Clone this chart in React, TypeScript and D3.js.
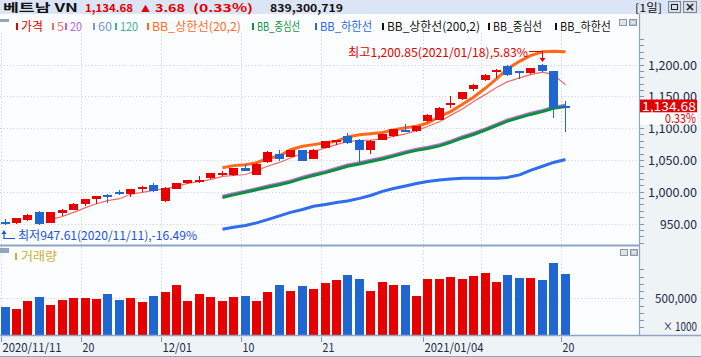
import React from "react";
import * as d3 from "d3";

const dates = [
  "2020/11/11","2020/11/12","2020/11/13","2020/11/16","2020/11/17","2020/11/18","2020/11/19","2020/11/20",
  "2020/11/23","2020/11/24","2020/11/25","2020/11/26","2020/11/27","2020/11/30","2020/12/01","2020/12/02",
  "2020/12/03","2020/12/04","2020/12/07","2020/12/08","2020/12/09","2020/12/10","2020/12/11","2020/12/14",
  "2020/12/15","2020/12/16","2020/12/17","2020/12/18","2020/12/21","2020/12/22","2020/12/23","2020/12/24",
  "2020/12/25","2020/12/28","2020/12/29","2020/12/30","2020/12/31","2021/01/04","2021/01/05","2021/01/06",
  "2021/01/07","2021/01/08","2021/01/11","2021/01/12","2021/01/13","2021/01/14","2021/01/15","2021/01/18",
  "2021/01/19","2021/01/20"
];
const opens = [953,950.5,956,968,951.5,966,972,981,988,994.5,999.5,996,1003.5,1010,985,1005,1013,1016,1021,1029,
  1025.5,1038,1027,1046,1060,1055,1065,1052,1068.5,1079.5,1087,1082,1066,1082,1087,1097,1095,1110.5,1113.5,1137,
  1145,1162,1175,1189,1197,1189,1186,1198.5,1189,1135.5];
const highs = [957,959,965,970,968,972.5,981.5,988.5,994,997,1002,1004,1009,1013,1007,1014,1018.5,1024,1029.5,1032,
  1037,1043,1045,1063.5,1066,1066,1066,1067,1080,1082,1092.5,1083,1081,1091,1098.5,1107,1104,1121.5,1132.5,1151,
  1156.5,1170,1185,1193,1199,1190,1195,1200.85,1190,1142];
const lows = [947.61,949.5,954.5,948,950.5,962,971,977,981,983,994.5,991,1000,1000,984.5,1004,1012,1014,1020,1025,
  1025,1032,1026,1045.5,1049,1054,1048,1051,1068,1074,1075.5,1045.5,1059.5,1081,1086,1094,1094,1110,1113,1131,
  1144,1158,1174,1178,1182,1177.5,1185,1188,1115.5,1094.5];
const closes = [952,958,964,949,967.5,972,981,988,992.5,994,999,1003.5,1008,1000.5,1006.5,1013,1018,1019,1029,1030,
  1036.5,1033,1044,1063,1052,1065,1049,1066,1079,1081.5,1076,1065,1080.5,1090,1098,1096,1103,1120,1131,1140,
  1156,1167,1184,1192,1184,1186,1194,1189,1131,1134.68];
const volumes = [381000,349000,460000,516000,404000,474000,502000,502000,488000,558000,474000,502000,446000,530000,
  586000,683000,460000,558000,516000,460000,516000,530000,460000,586000,683000,600000,669000,628000,711000,753000,
  822000,767000,600000,725000,683000,683000,530000,767000,767000,795000,767000,809000,851000,725000,822000,781000,
  781000,753000,990000,839300];

// 5-day moving average, from index 4
const ma5Start = 4;
const ma5 = [956,961,967.5,975,981,986,989,996,999,1002,1005,1008,1013,1016,1019,1024,1025.5,1027,1033,1040,1046,
  1053,1060,1063,1069,1074,1079,1080.5,1081,1083,1087,1091,1096,1102.5,1110,1120,1130,1142,1153,1164,1173,1179,
  1184,1188,1184,1168];
// Bollinger (20,2), from index 19
const bbStart = 19;
const bbUpper = [1037.6,1041,1042.5,1045.5,1052,1056.5,1066,1071.5,1074,1077,1079.5,1086,1089.5,1091,1093,1097,
  1100.5,1103,1108,1118,1126,1137.5,1148.5,1163,1177.5,1193,1205,1214,1220,1221,1220];
const bbMiddle = [991,995,999,1003,1007,1011,1015,1021,1025.5,1030,1035,1040,1043.5,1047.5,1051.5,1056,1061,1065,
  1068,1072,1077.5,1084.5,1090,1097,1104,1111,1116.5,1121.5,1126,1131,1134];
const bbLower = [941,944,947,951,956,962,967.5,972,977,980,983,985.5,989.5,994,1000.5,1005,1009,1013,1016,1018.5,
  1020,1021,1021,1021,1021,1022.5,1026.5,1033.5,1040,1046,1050.5];

const priceTicks = [950, 1000, 1050, 1100, 1150, 1200];
const volumeTicks = [500000];
const xTickIdx = [0, 7, 14, 21, 28, 37, 49];
const xTickLabels = ["2020/11/11", "20", "12/01", "10", "21", "2021/01/04", "20"];
const xGridIdx = [0, 7, 14, 21, 28, 37, 42, 49];

const legendLabels = ["가격", "5", "20", "60", "120", "BB_상한선(20,2)", "BB_중심선", "BB_하한선", "BB_상한선(200,2)", "BB_중심선", "BB_하한선"];
const legendColors = ["#e60000", "#f07070", "#c060e0", "#7898d0", "#40b0a0", "#ff6a1a", "#109040", "#2a64f0", "#111", "#111", "#111"];
const legendX = [16, 52, 65, 93, 115, 147, 252, 315, 382, 488, 555];
const legendW = [22, 7, 12, 14, 18, 89, 43, 52, 93, 49, 51];

const UP = "#e60000";
const DOWN = "#1f66d1";
const FONT = "'Noto Sans CJK KR', 'DejaVu Sans', sans-serif";
const GRID = "#c8ccd4";

export default function App() {
  const plotRight = 640;
  const x = d3.scaleLinear().domain([0, 7]).range([0.5, 80.5]);
  const cx = (i: number) => Math.round(x(i)) + 4.5;
  const y = d3.scaleLinear().domain([950, 1200]).range([223.5, 64.5]);
  const vy = d3.scaleLinear().domain([0, 500000]).range([334.5, 298.3]);

  const mkLine = (arr: number[], start: number) =>
    d3.line<number>().x((_, k) => cx(start + k)).y((v) => y(v))(arr) || "";

  const minorPrice = d3.range(920, 1241, 10);
  const minorVol = d3.range(100000, 900001, 100000);

  const last = closes[closes.length - 1];
  const hiIdx = highs.indexOf(d3.max(highs) as number);
  const loIdx = lows.indexOf(d3.min(lows) as number);

  return (
    <svg width={701} height={357} style={{ position: "absolute", left: 0, top: 0 }} fontFamily={FONT}>
      <defs>
        <clipPath id="mainClip"><rect x={0} y={33} width={plotRight} height={212} /></clipPath>
      </defs>
      {/* backgrounds */}
      <rect x={0} y={0} width={701} height={357} fill="#eef3f6" />
      <rect x={0} y={14} width={plotRight} height={321} fill="#fbfdfe" />
      {/* title bar */}
      <rect x={0} y={0} width={701} height={14} fill="#dce5f6" />
      <g fontWeight="bold" fontSize={11}>
        <text x={3} y={12} fill="#111" textLength={75} lengthAdjust="spacingAndGlyphs">베트남 VN</text>
        <text x={85} y={12} fill="#e00000" textLength={48} lengthAdjust="spacingAndGlyphs">{d3.format(",.2f")(last)}</text>
        <text x={141} y={11.5} fill="#e00000" fontSize={9}>▲</text>
        <text x={155} y={12} fill="#e00000" textLength={30} lengthAdjust="spacingAndGlyphs">3.68</text>
        <text x={193} y={12} fill="#e00000" textLength={60} lengthAdjust="spacingAndGlyphs">(0.33%)</text>
        <text x={270} y={12} fill="#111" textLength={73} lengthAdjust="spacingAndGlyphs">839,300,719</text>
      </g>
      <text x={635} y={12} fontSize={11} fill="#111" textLength={27} lengthAdjust="spacingAndGlyphs">[1일]</text>
      <rect x={668.5} y={1.5} width={12} height={11} fill="#d8dde6" stroke="#7d8796" />
      <rect x={671.5} y={4.5} width={6} height={5} fill="none" stroke="#222" />
      <rect x={683.5} y={1.5} width={13} height={11} fill="#d8dde6" stroke="#7d8796" />
      <path d="M687,4 L693,10 M693,4 L687,10" stroke="#222" strokeWidth={1.6} />

      {/* main pane grid */}
      <g stroke={GRID} strokeDasharray="1 2.4" strokeWidth={1}>
        {priceTicks.map((t) => (
          <line key={"pg" + t} x1={0} x2={plotRight} y1={Math.round(y(t)) + 0.5} y2={Math.round(y(t)) + 0.5} />
        ))}
        {xGridIdx.map((i) => (
          <line key={"xg" + i} x1={Math.round(x(i)) + 0.5} x2={Math.round(x(i)) + 0.5} y1={33} y2={245} />
        ))}
        {volumeTicks.map((t) => (
          <line key={"vg" + t} x1={0} x2={plotRight} y1={Math.round(vy(t)) + 0.5} y2={Math.round(vy(t)) + 0.5} />
        ))}
        {xGridIdx.map((i) => (
          <line key={"xvg" + i} x1={Math.round(x(i)) + 0.5} x2={Math.round(x(i)) + 0.5} y1={247} y2={334} />
        ))}
      </g>

      {/* legend row */}
      <rect x={0} y={19} width={9} height={3} fill="#90a4c0" />
      {legendLabels.map((l, k) => (
        <g key={"lg" + k}>
          <rect x={legendX[k]} y={23} width={2} height={7} fill={legendColors[k]} />
          <text x={legendX[k] + 5} y={31} fontSize={12} fill={legendColors[k]} textLength={legendW[k]} lengthAdjust="spacingAndGlyphs">{l}</text>
        </g>
      ))}
      <rect x={619.5} y={19.5} width={7} height={6} fill="#dfe4ea" stroke="#8c98a8" />
      <rect x={629.5} y={19.5} width={7} height={6} fill="#b8c2ce" stroke="#8c98a8" />
      <path d="M631,21 L635,24 M635,21 L631,24" stroke="#fff" strokeWidth={1} />

      {/* indicator lines */}
      <g clipPath="url(#mainClip)" fill="none">
        <path d={mkLine(bbLower, bbStart)} stroke="#2e6cf0" strokeWidth={3} />
        <path d={mkLine(bbMiddle, bbStart)} stroke="#c070d8" strokeWidth={3} transform="translate(0,-1.2)" />
        <path d={mkLine(bbMiddle, bbStart)} stroke="#0f9040" strokeWidth={3} />
        <path d={mkLine(bbUpper, bbStart)} stroke="#ff6a1a" strokeWidth={3} />
        <path d={mkLine(ma5, ma5Start)} stroke="#f06868" strokeWidth={1.2} />
      </g>

      {/* candles */}
      <g shapeRendering="crispEdges">
        {closes.map((c, i) => {
          const o = opens[i];
          const up = c >= o;
          const col = up ? UP : DOWN;
          const top = Math.round(y(Math.max(o, c)));
          const bot = Math.round(y(Math.min(o, c)));
          const h = Math.max(2, bot - top);
          const xc = cx(i);
          return (
            <g key={"c" + i}>
              <line x1={xc} x2={xc} y1={y(highs[i])} y2={y(lows[i])} stroke={col} strokeWidth={1.6} />
              <rect x={Math.round(x(i))} y={top} width={9} height={h} fill={col} />
            </g>
          );
        })}
      </g>

      {/* high / low annotations */}
      <text x={528} y={57} fontSize={12} fill="#e00000" textAnchor="end" textLength={180} lengthAdjust="spacingAndGlyphs">
        {`최고${d3.format(",.2f")(highs[hiIdx])}(${dates[hiIdx]}),5.83%`}
      </text>
      <path d={`M529,51.5 H${cx(hiIdx)} V${y(highs[hiIdx]) - 4}`} stroke="#e00000" fill="none" strokeWidth={1} />
      <path d={`M${cx(hiIdx) - 3},${y(highs[hiIdx]) - 6} L${cx(hiIdx) + 3},${y(highs[hiIdx]) - 6} L${cx(hiIdx)},${y(highs[hiIdx]) - 2} Z`} fill="#e00000" />

      <path d={`M4,232 V238.5 H15`} stroke="#2050e0" fill="none" strokeWidth={1.2} />
      <path d={`M1.5,234 L4,230 L6.5,234 Z`} fill="#2050e0" />
      <text x={18} y={240} fontSize={12} fill="#2050e0" textLength={179} lengthAdjust="spacingAndGlyphs">
        {`최저${d3.format(".2f")(lows[loIdx])}(${dates[loIdx]}),-16.49%`}
      </text>

      {/* pane separator */}
      <line x1={0} x2={plotRight} y1={245.5} y2={245.5} stroke="#8fa3c2" strokeWidth={2} />

      {/* volume pane */}
      <rect x={0} y={248} width={9} height={5} fill="#90a4c0" />
      <rect x={15} y={253} width={2} height={7} fill="#c8b030" />
      <text x={21} y={261} fontSize={12} fill="#c8b030" textLength={36} lengthAdjust="spacingAndGlyphs">거래량</text>
      <rect x={620.5} y={249.5} width={7} height={6} fill="#dfe4ea" stroke="#8c98a8" />
      <rect x={630.5} y={249.5} width={7} height={6} fill="#b8c2ce" stroke="#8c98a8" />
      <path d="M632,251 L636,254 M636,251 L632,254" stroke="#fff" strokeWidth={1} />
      <g shapeRendering="crispEdges">
        {volumes.map((v, i) => {
          const up = closes[i] >= opens[i];
          const top = Math.round(vy(v));
          return <rect key={"v" + i} x={Math.round(x(i))} y={top} width={9} height={335 - top} fill={up ? UP : DOWN} />;
        })}
      </g>

      {/* right axis */}
      <line x1={639.5} x2={639.5} y1={14} y2={335} stroke="#8fa3c2" strokeWidth={1.2} />
      <g stroke="#7f95b8" shapeRendering="crispEdges">
        {minorPrice.map((t) => (
          <line key={"mt" + t} x1={640} x2={644} y1={Math.round(y(t)) + 0.5} y2={Math.round(y(t)) + 0.5} />
        ))}
        {minorVol.map((t) => (
          <line key={"mv" + t} x1={640} x2={644} y1={Math.round(vy(t)) + 0.5} y2={Math.round(vy(t)) + 0.5} />
        ))}
      </g>
      <g fontSize={12.5} fill="#1c2a48">
        {priceTicks.map((t) => (
          <text key={"pl" + t} x={697} y={y(t) + 5} textAnchor="end" textLength={t >= 1000 ? 49 : 37} lengthAdjust="spacingAndGlyphs">
            {d3.format(",.2f")(t)}
          </text>
        ))}
        {volumeTicks.map((t) => (
          <text key={"vl" + t} x={697} y={vy(t) + 5} textAnchor="end" textLength={42} lengthAdjust="spacingAndGlyphs">
            {d3.format(",")(t)}
          </text>
        ))}
        <text x={697} y={330.5} fontSize={12} textAnchor="end" textLength={34} lengthAdjust="spacingAndGlyphs">× 1000</text>
      </g>
      {/* current price label */}
      <rect x={640} y={y(last) - 6.5} width={57} height={13} fill="#e00000" />
      <text x={696} y={y(last) + 4.5} fontSize={12.5} fill="#fff" textAnchor="end" textLength={54} lengthAdjust="spacingAndGlyphs">
        {d3.format(",.2f")(last)}
      </text>
      <rect x={640} y={y(last) + 6.5} width={57} height={12} fill="#ffffff" />
      <text x={696} y={y(last) + 17} fontSize={12.5} fill="#e00000" textAnchor="end" textLength={31} lengthAdjust="spacingAndGlyphs">0.33%</text>

      {/* x axis */}
      <line x1={0} x2={701} y1={335.5} y2={335.5} stroke="#8fa3c2" strokeWidth={1.5} />
      <line x1={0} x2={701} y1={356.5} y2={356.5} stroke="#8fa3c2" strokeWidth={1} />
      <g>
        {xTickIdx.map((i, k) => {
          const xp = Math.round(x(i)) + 0.5;
          return (
            <g key={"xt" + i}>
              <line x1={xp} x2={xp} y1={337} y2={342} stroke="#7f95b8" />
              <text x={xp + 1} y={352} fontSize={12} fill="#1c2a48" textLength={xTickLabels[k].length * 5.9} lengthAdjust="spacingAndGlyphs">
                {xTickLabels[k]}
              </text>
            </g>
          );
        })}
      </g>
    </svg>
  );
}
